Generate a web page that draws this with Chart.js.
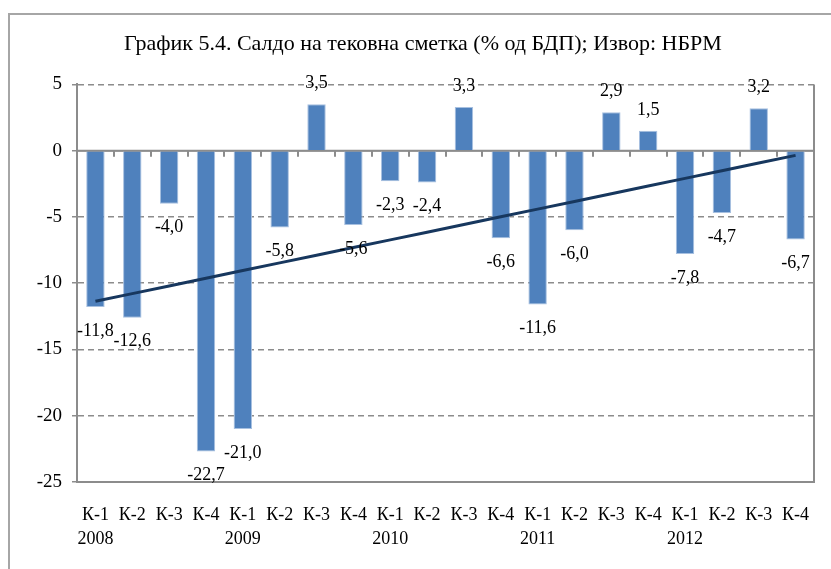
<!DOCTYPE html>
<html>
<head>
<meta charset="utf-8">
<script src="https://cdn.jsdelivr.net/npm/chart.js@4.4.0/dist/chart.umd.min.js"></script>
<style>
html, body { margin: 0; padding: 0; background: #fff; overflow: hidden; }
#wrap { position: relative; width: 831px; height: 569px; }
#frame { position: absolute; left: 8px; top: 13px; width: 900px; height: 600px; border: 2px solid #a6a6a6; }
canvas { position: absolute; left: 0; top: 0; }
</style>
</head>
<body>
<div id="wrap">
  <div id="frame"></div>
  <canvas id="chart" width="831" height="569"></canvas>
</div>
<script>
const quarters = ['К-1', 'К-2', 'К-3', 'К-4']
const years = ['2008', '2009', '2010', '2011', '2012']
const balance = [-11.8, -12.6, -4.0, -22.7, -21.0, -5.8, 3.5, -5.6, -2.3, -2.4,
                 3.3, -6.6, -11.6, -6.0, 2.9, 1.5, -7.8, -4.7, 3.2, -6.7]
const yTicks = [5, 0, -5, -10, -15, -20, -25]

const titleText = 'График 5.4. Салдо на тековна сметка (% од БДП); Извор: НБРМ'
const serif = 'Liberation Serif'

// category labels, year under every К-1
let labels = []
for (let i = 0; i < balance.length; i++) {
    if (i % 4 === 0) labels.push([quarters[0], years[i / 4]])
    else labels.push(quarters[i % 4])
}

// linear trend (least squares), like the Excel trendline
const n = balance.length
let sx = 0, sy = 0, sxy = 0, sxx = 0
for (let i = 0; i < n; i++) {
    sx += i; sy += balance[i]; sxy += i * balance[i]; sxx += i * i
}
const slope = (n * sxy - sx * sy) / (n * sxx - sx * sx)
const icpt = (sy - slope * sx) / n
const trend = balance.map((v, i) => icpt + slope * i)

const extras = {
    id: 'extras',
    beforeDatasetsDraw(chart) {
        const {ctx, chartArea, scales: {x, y}} = chart
        const y0 = y.getPixelForValue(0)
        ctx.save()
        ctx.strokeStyle = '#8c8c8c'
        ctx.lineWidth = 2
        ctx.beginPath()
        ctx.moveTo(chartArea.left, y0)
        ctx.lineTo(chartArea.right, y0)
        // small ticks between the categories
        for (let i = 1; i < n; i++) {
            const bx = Math.round((x.getPixelForValue(i - 1) + x.getPixelForValue(i)) / 2)
            ctx.moveTo(bx, y0)
            ctx.lineTo(bx, y0 + 6)
        }
        ctx.moveTo(chartArea.right, chartArea.top)
        ctx.lineTo(chartArea.right, chartArea.bottom)
        ctx.stroke()
        ctx.restore()
    },
    afterDatasetsDraw(chart) {
        const {ctx} = chart
        const meta = chart.getDatasetMeta(1)
        ctx.save()
        ctx.font = '18px "' + serif + '"'
        ctx.fillStyle = '#000'
        ctx.textAlign = 'center'
        ctx.textBaseline = 'middle'
        meta.data.forEach((bar, i) => {
            const v = balance[i]
            const txt = v.toFixed(1).replace('.', ',')
            const ty = v < 0 ? bar.y + 24 : bar.y - 21
            ctx.fillText(txt, bar.x, ty)
        })
        ctx.restore()
    }
}

new Chart(document.getElementById('chart'), {
    type: 'bar',
    data: {
        labels: labels,
        datasets: [{
            type: 'line',
            data: trend,
            borderColor: '#17375E',
            borderWidth: 3,
            pointRadius: 0,
            order: 0
        }, {
            data: balance,
            backgroundColor: '#4F81BD',
            borderColor: '#a7c0e0',
            borderWidth: 1,
            barPercentage: 0.5,
            categoryPercentage: 1,
            order: 1
        }]
    },
    options: {
        responsive: false,
        animation: false,
        layout: {padding: {left: 32, right: 17, top: 0, bottom: 17}},
        plugins: {
            legend: {display: false},
            tooltip: {enabled: false},
            title: {
                display: true,
                text: titleText,
                color: '#000',
                font: {family: serif, size: 22, weight: 'normal', lineHeight: 1.2},
                padding: {top: 31, bottom: 27}
            }
        },
        scales: {
            x: {
                grid: {display: false, drawTicks: false},
                border: {display: true, color: '#8c8c8c', width: 2},
                ticks: {
                    color: '#000',
                    font: {family: serif, size: 18, lineHeight: 1.35},
                    padding: 21,
                    maxRotation: 0,
                    autoSkip: false
                },
                afterFit(scale) { scale.height = 70 }
            },
            y: {
                min: -25,
                max: 5,
                afterBuildTicks(scale) { scale.ticks = yTicks.map(v => ({value: v})) },
                grid: {
                    color: '#8c8c8c',
                    lineWidth: 1.5,
                    tickLength: 5,
                    tickBorderDash: [],
                    tickWidth: 1.5
                },
                border: {
                    display: true,
                    color: '#8c8c8c',
                    width: 2,
                    dash: ctx => (ctx.tick && (ctx.tick.value === 0 || ctx.tick.value === -25)) ? [] : [6, 4]
                },
                ticks: {
                    color: '#000',
                    font: {family: serif, size: 19},
                    padding: 10
                },
                afterFit(scale) { scale.width = 45 }
            }
        }
    },
    plugins: [extras]
});
</script>
</body>
</html>
